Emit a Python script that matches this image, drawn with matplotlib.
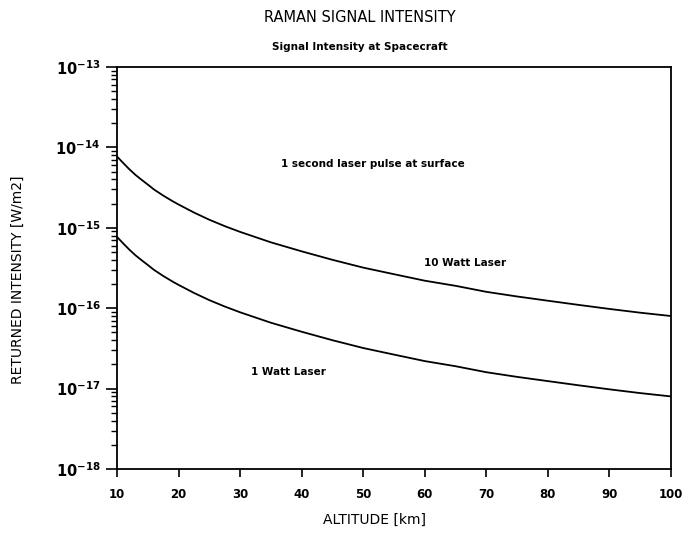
import math
import matplotlib
matplotlib.use("Agg")
import matplotlib.pyplot as plt
from matplotlib.ticker import LogLocator, FixedLocator, FuncFormatter, NullFormatter

altitude = [10, 11, 12, 13, 14, 15, 16, 17.5, 19, 20, 22.5, 25, 27.5, 30, 35, 40, 45, 50, 55,
            60, 65, 70, 75, 80, 85, 90, 95, 100]
laser_10w = [7.7e-15, 6.4e-15, 5.35e-15, 4.55e-15, 3.95e-15, 3.45e-15, 3.0e-15, 2.52e-15, 2.15e-15,
             1.95e-15, 1.55e-15, 1.26e-15, 1.05e-15, 8.9e-16, 6.6e-16, 5.1e-16, 4.0e-16, 3.2e-16,
             2.65e-16, 2.2e-16, 1.9e-16, 1.6e-16, 1.4e-16, 1.24e-16, 1.1e-16, 9.8e-17, 8.8e-17, 8.0e-17]
laser_1w = [7.7e-16, 6.4e-16, 5.35e-16, 4.55e-16, 3.95e-16, 3.45e-16, 3.0e-16, 2.52e-16, 2.15e-16,
            1.95e-16, 1.55e-16, 1.26e-16, 1.05e-16, 8.9e-17, 6.6e-17, 5.1e-17, 4.0e-17, 3.2e-17,
            2.65e-17, 2.2e-17, 1.9e-17, 1.6e-17, 1.4e-17, 1.24e-17, 1.1e-17, 9.8e-18, 8.8e-18, 8.0e-18]
x_ticks = [10, 20, 30, 40, 50, 60, 70, 80, 90, 100]
y_decades = [1e-18, 1e-17, 1e-16, 1e-15, 1e-14, 1e-13]

plt.rcParams['font.family'] = ['DejaVu Sans']
plt.rcParams['mathtext.fontset'] = 'dejavusans'
plt.rcParams['mathtext.default'] = 'regular'

fig = plt.figure(figsize=(6.82, 5.34), dpi=100)
ax = fig.add_axes([0.1716, 0.1217, 0.812, 0.7528])

ax.plot(altitude, laser_10w, color='black', lw=1.3)
ax.plot(altitude, laser_1w, color='black', lw=1.3)

ax.set_yscale('log')
ax.set_xlim(10, 100)
ax.set_ylim(1e-18, 1e-13)

ax.xaxis.set_major_locator(FixedLocator(x_ticks))
ax.set_xticklabels([str(t) for t in x_ticks], fontsize=8.5, fontweight='bold')
ax.yaxis.set_major_locator(FixedLocator(y_decades))
ax.yaxis.set_major_formatter(FuncFormatter(lambda v, p: r'$10^{%d}$' % round(math.log10(v))))
ax.yaxis.set_minor_locator(LogLocator(base=10, subs=range(2, 10), numticks=20))
ax.yaxis.set_minor_formatter(NullFormatter())
for lab in ax.get_yticklabels():
    lab.set_fontsize(10.5)
    lab.set_fontweight('semibold')

ax.tick_params(axis='x', direction='out', length=6, width=1.2, pad=8)
ax.tick_params(axis='y', which='major', direction='out', length=8, width=1.2, pad=4)
ax.tick_params(axis='y', which='minor', direction='out', length=4, width=1.0)
for s in ax.spines.values():
    s.set_linewidth(1.3)

ax.text(51.6, 6.3e-15, '1 second laser pulse at surface', ha='center', va='center',
        fontsize=7.5, fontweight='bold')
ax.text(66.5, 3.65e-16, '10 Watt Laser', ha='center', va='center', fontsize=7.5, fontweight='bold')
ax.text(37.8, 1.6e-17, '1 Watt Laser', ha='center', va='center', fontsize=7.5, fontweight='bold')

fig.text(360/682, 1 - 18/534, 'RAMAN SIGNAL INTENSITY', ha='center', va='center', fontsize=10.5)
fig.text(360/682, 1 - 47/534, 'Signal Intensity at Spacecraft', ha='center', va='center',
         fontsize=7.5, fontweight='bold')
fig.text(375/682, 1 - 520/534, 'ALTITUDE [km]', ha='center', va='center', fontsize=10)
fig.text(18/682, 1 - 280/534, 'RETURNED INTENSITY [W/m2]', ha='center', va='center',
         rotation=90, fontsize=10)

fig.savefig('out.png', dpi=100)
